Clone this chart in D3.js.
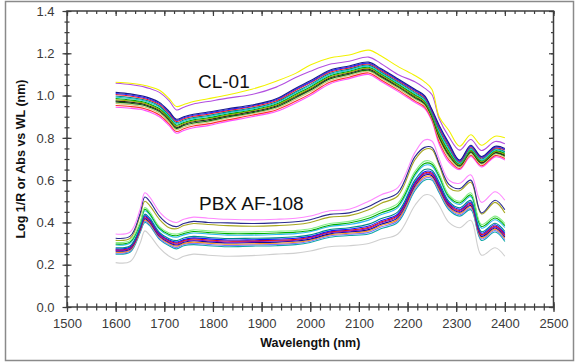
<!DOCTYPE html>
<html>
<head>
<meta charset="utf-8">
<script src="https://cdn.jsdelivr.net/npm/d3@7"></script>
<style>
  body { margin: 0; background: #fff; }
  svg { display: block; font-family: Arial, "Liberation Sans", sans-serif; }
</style>
</head>
<body>
<div id="chart"></div>
<script>
const wavelengths = [1600,1630,1650,1660,1670,1690,1710,1725,1740,1760,1790,1830,1880,1930,1970,2000,2040,2080,2120,2145,2180,2215,2235,2250,2265,2285,2307,2330,2352,2380,2400];

// CL-01 spectra (upper group), top to bottom
const cl01 = [
  [1.063,1.058,1.052,1.048,1.042,1.025,0.985,0.948,0.958,0.972,0.985,1.003,1.030,1.068,1.105,1.145,1.178,1.192,1.215,1.188,1.138,1.095,1.065,1.030,0.900,0.835,0.760,0.815,0.765,0.808,0.800],
  [1.058,1.052,1.045,1.040,1.033,1.015,0.975,0.932,0.945,0.960,0.972,0.988,1.005,1.040,1.085,1.115,1.148,1.162,1.182,1.152,1.100,1.065,1.035,1.005,0.890,0.805,0.742,0.792,0.740,0.783,0.772],
  [1.015,1.008,1.000,0.995,0.988,0.968,0.925,0.888,0.900,0.912,0.922,0.938,0.955,0.985,1.035,1.070,1.120,1.140,1.158,1.128,1.080,1.030,1.000,0.935,0.860,0.775,0.695,0.765,0.712,0.760,0.750],
  [1.010,1.003,0.995,0.990,0.983,0.963,0.920,0.883,0.895,0.907,0.917,0.933,0.951,0.980,1.030,1.064,1.115,1.135,1.153,1.123,1.075,1.025,0.995,0.930,0.852,0.768,0.691,0.760,0.708,0.756,0.745],
  [1.005,0.998,0.990,0.985,0.978,0.958,0.915,0.878,0.890,0.902,0.912,0.929,0.947,0.976,1.025,1.060,1.110,1.131,1.149,1.119,1.071,1.021,0.991,0.927,0.846,0.762,0.688,0.757,0.705,0.752,0.742],
  [0.998,0.991,0.984,0.979,0.972,0.951,0.908,0.872,0.884,0.896,0.906,0.923,0.941,0.970,1.018,1.053,1.104,1.125,1.144,1.113,1.065,1.015,0.985,0.921,0.838,0.753,0.684,0.752,0.700,0.748,0.736],
  [0.992,0.986,0.979,0.974,0.966,0.946,0.903,0.866,0.879,0.891,0.901,0.918,0.937,0.965,1.012,1.047,1.099,1.120,1.139,1.108,1.060,1.010,0.980,0.917,0.830,0.745,0.680,0.748,0.695,0.743,0.732],
  [0.986,0.979,0.973,0.968,0.960,0.939,0.897,0.860,0.873,0.885,0.895,0.913,0.932,0.960,1.006,1.041,1.093,1.115,1.134,1.103,1.055,1.004,0.975,0.912,0.822,0.737,0.676,0.743,0.691,0.739,0.727],
  [0.980,0.974,0.968,0.963,0.955,0.934,0.892,0.855,0.868,0.880,0.890,0.908,0.928,0.955,1.000,1.035,1.088,1.110,1.129,1.098,1.050,0.999,0.970,0.908,0.815,0.730,0.673,0.739,0.687,0.735,0.723],
  [0.975,0.969,0.963,0.958,0.950,0.929,0.887,0.850,0.863,0.876,0.886,0.904,0.924,0.951,0.995,1.030,1.083,1.106,1.125,1.094,1.046,0.995,0.966,0.904,0.809,0.724,0.669,0.735,0.683,0.731,0.719],
  [0.970,0.964,0.958,0.953,0.945,0.924,0.882,0.845,0.858,0.870,0.880,0.899,0.919,0.946,0.990,1.025,1.078,1.101,1.120,1.089,1.041,0.990,0.961,0.899,0.802,0.717,0.666,0.731,0.680,0.728,0.714],
  [0.963,0.957,0.951,0.946,0.939,0.917,0.875,0.839,0.851,0.864,0.874,0.893,0.914,0.940,0.983,1.018,1.071,1.095,1.115,1.083,1.035,0.984,0.955,0.894,0.793,0.708,0.661,0.725,0.675,0.723,0.709],
  [0.953,0.948,0.943,0.938,0.930,0.908,0.866,0.830,0.843,0.856,0.866,0.885,0.907,0.932,0.973,1.008,1.063,1.087,1.107,1.075,1.027,0.975,0.947,0.887,0.781,0.696,0.655,0.718,0.668,0.716,0.702],
  [0.945,0.940,0.935,0.930,0.922,0.900,0.858,0.822,0.835,0.848,0.858,0.878,0.900,0.925,0.965,1.000,1.055,1.080,1.100,1.068,1.020,0.968,0.940,0.880,0.770,0.685,0.650,0.712,0.662,0.710,0.695]
];

// PBX AF-108 spectra (lower group), top to bottom
const pbx = [
  [.345,.355,.46,.54,.52,.45,.41,.40,.415,.425,.42,.415,.412,.415,.42,.43,.455,.462,.50,.53,.565,.73,.79,.785,.70,.60,.585,.625,.495,.545,.505],
  [.325,.335,.44,.52,.50,.43,.39,.38,.395,.405,.40,.398,.395,.398,.403,.413,.438,.445,.475,.505,.54,.71,.755,.755,.68,.58,.56,.60,.445,.505,.46],
  [.315,.325,.43,.50,.48,.415,.375,.37,.385,.395,.39,.385,.382,.385,.39,.40,.425,.432,.46,.49,.525,.695,.745,.745,.67,.565,.55,.59,.44,.495,.445],
  [.305,.315,.40,.47,.45,.38,.35,.345,.355,.365,.36,.355,.355,.358,.362,.37,.395,.405,.43,.455,.49,.64,.69,.685,.63,.53,.50,.54,.39,.43,.395],
  [.298,.308,.394,.462,.442,.373,.343,.337,.347,.357,.352,.347,.347,.350,.354,.362,.387,.397,.420,.445,.479,.629,.679,.675,.619,.522,.492,.530,.381,.421,.385],
  [.293,.303,.389,.455,.436,.367,.337,.330,.341,.350,.345,.340,.340,.343,.347,.356,.381,.390,.411,.436,.470,.620,.670,.666,.610,.515,.485,.522,.373,.413,.376],
  [.280,.290,.378,.439,.421,.353,.323,.314,.326,.334,.329,.324,.325,.327,.332,.341,.366,.375,.392,.417,.450,.600,.650,.647,.590,.499,.469,.504,.356,.396,.357],
  [.275,.285,.373,.432,.414,.347,.317,.307,.319,.327,.322,.317,.318,.321,.325,.334,.359,.368,.383,.408,.440,.590,.640,.638,.580,.492,.462,.496,.349,.389,.348],
  [.271,.281,.369,.427,.410,.343,.313,.302,.315,.322,.317,.312,.313,.316,.320,.330,.355,.363,.377,.402,.434,.584,.634,.632,.574,.487,.457,.490,.343,.383,.342],
  [.268,.278,.366,.422,.406,.339,.309,.297,.311,.317,.312,.307,.309,.312,.316,.326,.351,.359,.372,.397,.429,.579,.629,.627,.569,.482,.452,.486,.339,.379,.337],
  [.264,.274,.363,.418,.401,.335,.305,.293,.306,.313,.308,.303,.305,.307,.312,.321,.346,.355,.366,.391,.423,.573,.623,.621,.563,.478,.448,.480,.334,.374,.331],
  [.259,.269,.359,.412,.396,.330,.300,.287,.301,.307,.302,.297,.299,.302,.306,.316,.341,.349,.360,.385,.415,.565,.615,.615,.555,.472,.442,.474,.328,.368,.325],
  [.255,.265,.355,.406,.391,.325,.295,.281,.296,.301,.296,.291,.294,.296,.301,.311,.336,.344,.353,.378,.408,.558,.608,.608,.548,.466,.436,.467,.322,.362,.318],
  [.25,.26,.35,.40,.385,.32,.29,.275,.29,.295,.29,.285,.288,.29,.295,.305,.33,.338,.345,.37,.40,.55,.60,.60,.54,.46,.43,.46,.315,.355,.31],
  [.21,.215,.30,.36,.34,.28,.24,.225,.24,.25,.245,.24,.243,.25,.255,.265,.285,.29,.30,.32,.345,.48,.53,.525,.48,.40,.375,.41,.245,.28,.24]
];

const xTicks = [1500,1600,1700,1800,1900,2000,2100,2200,2300,2400,2500];
const yTicks = [0.0,0.2,0.4,0.6,0.8,1.0,1.2,1.4];

// line colours (styles kept apart from the values)
const cl01Colors = ['#f2f200','#b34fe0','#1a1a8c','#2a2aff','#ff1a1a','#008b8b','#20c8d8','#00a800',
                    '#a8a800','#222222','#0a6a0a','#c8c870','#ff3030','#ff50ff'];
const pbxColors = ['#ff88ff','#2a2a90','#a8a820','#88ee88','#00b000','#30b8f0','#008888','#1515ff',
                   '#e01010','#8a10d0','#101090','#ff8c1a','#7a7aff','#10a8a8','#cfcfcf'];

const W = 578, H = 362;
const margin = { left: 67, right: 24, top: 11, bottom: 55 };

const svg = d3.select('#chart')
    .append('svg')
    .attr('width', W)
    .attr('height', H);

// outer frame
svg.append('rect')
    .attr('x', 5.5).attr('y', 1.5)
    .attr('width', 568).attr('height', 359)
    .attr('fill', 'none')
    .attr('stroke', '#8a8a8a')
    .attr('stroke-width', 1.5);

const x = d3.scaleLinear()
    .domain([1500, 2500])
    .range([margin.left, W - margin.right - 0.5]);

const y = d3.scaleLinear()
    .domain([0, 1.4])
    .range([H - margin.bottom, margin.top]);

const axisColor = '#3c3c3c';
const xMinor = d3.range(1500, 2501, 20);
const yMinor = d3.range(0, 1.401, 0.05);

function styleAxis(g) {
    g.select('.domain').remove();
    g.selectAll('.tick line').attr('stroke', axisColor).attr('stroke-width', 1.2);
    g.selectAll('text').attr('fill', '#3a3a3a').attr('font-size', '13px');
}

// bottom axis: minor then major, ticks crossing the axis line
svg.append('g')
    .attr('transform', `translate(0,${y(0)})`)
    .call(d3.axisBottom(x).tickValues(xMinor).tickSize(3.5).tickFormat(''))
    .call(styleAxis)
    .call(g => g.selectAll('.tick line').attr('y1', -3.5));

svg.append('g')
    .attr('transform', `translate(0,${y(0)})`)
    .call(d3.axisBottom(x).tickValues(xTicks).tickSize(5).tickFormat(d3.format('d')))
    .call(styleAxis)
    .call(g => g.selectAll('.tick line').attr('y1', -5))
    .call(g => g.selectAll('text').attr('dy', null).attr('y', 21));

// left axis
svg.append('g')
    .attr('transform', `translate(${x(1500)},0)`)
    .call(d3.axisLeft(y).tickValues(yMinor).tickSize(2.5).tickFormat(''))
    .call(styleAxis)
    .call(g => g.selectAll('.tick line').attr('x1', 2.5));

svg.append('g')
    .attr('transform', `translate(${x(1500)},0)`)
    .call(d3.axisLeft(y).tickValues(yTicks).tickSize(4.5).tickPadding(8).tickFormat(d3.format('.1f')))
    .call(styleAxis)
    .call(g => g.selectAll('.tick line').attr('x1', 4.5));

// top axis (ticks inside)
svg.append('g')
    .attr('transform', `translate(0,${y(1.4)})`)
    .call(d3.axisTop(x).tickValues(xMinor).tickSize(-3).tickFormat(''))
    .call(styleAxis);
svg.append('g')
    .attr('transform', `translate(0,${y(1.4)})`)
    .call(d3.axisTop(x).tickValues(xTicks).tickSize(-5).tickFormat(''))
    .call(styleAxis);

// right axis (ticks inside)
svg.append('g')
    .attr('transform', `translate(${x(2500)},0)`)
    .call(d3.axisRight(y).tickValues(yMinor).tickSize(-2.5).tickFormat(''))
    .call(styleAxis);
svg.append('g')
    .attr('transform', `translate(${x(2500)},0)`)
    .call(d3.axisRight(y).tickValues(yTicks).tickSize(-4.5).tickFormat(''))
    .call(styleAxis);

// plot frame
svg.append('rect')
    .attr('x', x(1500)).attr('y', y(1.4))
    .attr('width', x(2500) - x(1500)).attr('height', y(0) - y(1.4))
    .attr('fill', 'none')
    .attr('stroke', axisColor)
    .attr('stroke-width', 1.5);

// spectra
const line = d3.line()
    .x((d, i) => x(wavelengths[i]))
    .y(d => y(d))
    .curve(d3.curveCatmullRom.alpha(0.5));

function drawGroup(series, colors, cls) {
    // draw bottom lines first so the top ones sit above
    const idx = d3.range(series.length).reverse();
    svg.append('g').attr('class', cls)
        .selectAll('path')
        .data(idx)
        .enter()
        .append('path')
        .attr('d', i => line(series[i]))
        .attr('fill', 'none')
        .attr('stroke', i => colors[i])
        .attr('stroke-width', 1.1);
}

drawGroup(pbx, pbxColors, 'pbx');
drawGroup(cl01, cl01Colors, 'cl01');

// group labels
svg.append('text')
    .attr('x', 198)
    .attr('y', 88)
    .attr('font-size', '19px')
    .attr('fill', '#111')
    .text('CL-01');

svg.append('text')
    .attr('x', 199)
    .attr('y', 210)
    .attr('font-size', '19px')
    .attr('fill', '#111')
    .text('PBX AF-108');

// axis titles
svg.append('text')
    .attr('x', (x(1500) + x(2500)) / 2)
    .attr('y', 347)
    .attr('text-anchor', 'middle')
    .attr('font-size', '12.5px')
    .attr('font-weight', 'bold')
    .attr('fill', '#111')
    .text('Wavelength (nm)');

svg.append('text')
    .attr('transform', `translate(25,${(y(0) + y(1.4)) / 2}) rotate(-90)`)
    .attr('text-anchor', 'middle')
    .attr('font-size', '12.5px')
    .attr('font-weight', 'bold')
    .attr('fill', '#111')
    .text('Log 1/R or Abs vs WL (nm)');
</script>
</body>
</html>
